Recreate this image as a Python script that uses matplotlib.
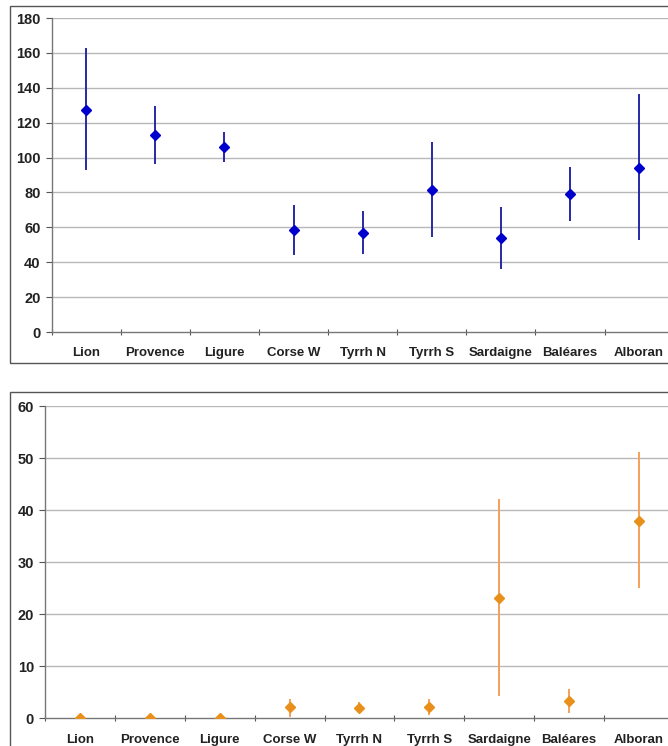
import matplotlib
matplotlib.use("Agg")
import matplotlib.pyplot as plt
from matplotlib.patches import Rectangle
import numpy as np

plt.rcParams['font.family'] = ['Liberation Sans', 'DejaVu Sans']

categories = ["Lion", "Provence", "Ligure", "Corse W", "Tyrrh N", "Tyrrh S",
              "Sardaigne", "Baléares", "Alboran"]

top_mean = [127.4, 112.8, 105.9, 58.4, 56.9, 81.4, 54.0, 79.0, 94.2]
top_low = [93.0, 96.3, 97.2, 44.3, 44.7, 54.3, 36.0, 63.6, 52.8]
top_high = [162.8, 129.7, 114.9, 72.8, 69.6, 109.0, 71.8, 94.8, 136.5]
top_yticks = [0, 20, 40, 60, 80, 100, 120, 140, 160, 180]

bot_mean = [0.1, 0.1, 0.1, 2.1, 1.9, 2.1, 23.05, 3.3, 38.0]
bot_low = [0.1, 0.1, 0.1, 0.3, 0.96, 0.6, 4.3, 1.1, 25.0]
bot_high = [0.1, 0.1, 0.1, 3.8, 3.2, 3.8, 42.1, 5.6, 51.2]
bot_yticks = [0, 10, 20, 30, 40, 50, 60]

W, H = 668, 746
fig = plt.figure(figsize=(W / 100, H / 100), dpi=100)

# panel frames
fig.patches.append(Rectangle((10 / W, 1 - 362.7 / H), 1.2, (362.7 - 6) / H,
                             transform=fig.transFigure, fill=False,
                             edgecolor='#555555', linewidth=1.0))
fig.patches.append(Rectangle((10 / W, -0.1), 1.2, 0.1 + 1 - 392 / H,
                             transform=fig.transFigure, fill=False,
                             edgecolor='#555555', linewidth=1.0))

ax1 = fig.add_axes([51.7 / W, 1 - 332 / H, 622 / W, (332 - 18) / H])
ax2 = fig.add_axes([45 / W, 1 - 718.3 / H, 629 / W, (718.3 - 406) / H])


def style(ax, mean, low, high, yticks, mcolor, ecolor):
    x = np.arange(len(categories))
    m = np.array(mean)
    yerr = [m - np.array(low), np.array(high) - m]
    ax.errorbar(x, m, yerr=yerr, fmt='D', color=mcolor, ecolor=ecolor,
                elinewidth=1.4, capsize=0, markersize=5, zorder=3)
    ax.set_xlim(-0.5, len(categories) - 0.5)
    ax.set_ylim(yticks[0], yticks[-1])
    ax.set_yticks(yticks)
    ax.set_yticklabels([str(t) for t in yticks], fontsize=10.5, fontweight='bold',
                       color='#222222')
    ax.set_xticks(x)
    ax.set_xticklabels(categories, fontsize=9.5, fontweight='bold', color='#222222')
    ax.tick_params(axis='x', which='major', length=0, pad=11)
    ax.set_xticks(np.arange(len(categories) + 1) - 0.5, minor=True)
    ax.tick_params(axis='x', which='minor', length=5, direction='inout',
                   color='#555555', width=0.8)
    ax.tick_params(axis='y', length=4, color='#555555', width=0.8, pad=4)
    for t in yticks[1:]:
        ax.axhline(t, color='#b8b8b8', linewidth=1.0, zorder=1)
    for s in ['top', 'right']:
        ax.spines[s].set_visible(False)
    for s in ['left', 'bottom']:
        ax.spines[s].set_color('#777777')
        ax.spines[s].set_linewidth(1.0)
    ax.patch.set_alpha(0)


style(ax1, top_mean, top_low, top_high, top_yticks, '#0000CC', '#2828A8')
style(ax2, bot_mean, bot_low, bot_high, bot_yticks, '#E8901A', '#F5A05A')

fig.savefig("out.png", dpi=100)
